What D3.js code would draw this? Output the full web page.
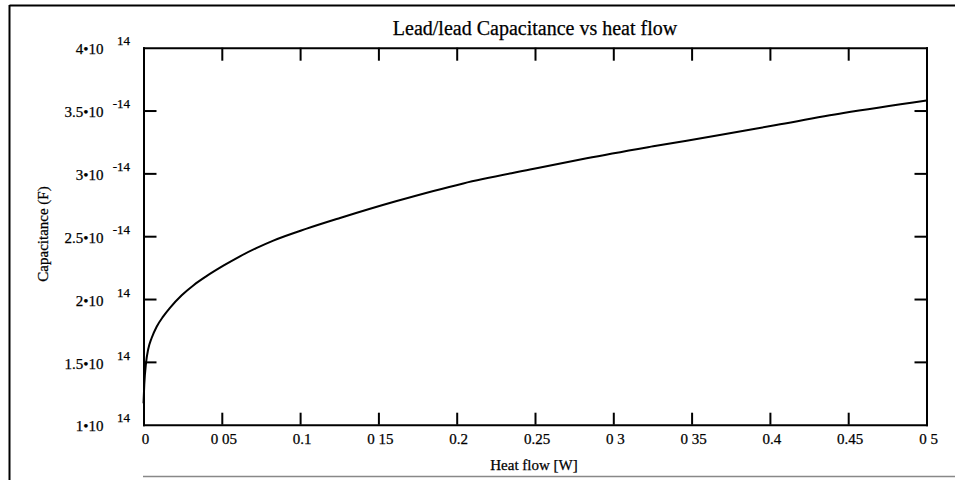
<!DOCTYPE html>
<meta charset="utf-8">
<style>
body { margin: 0; background: #fff; }
svg { display: block; }
text { font-family: "Liberation Serif", "DejaVu Serif", serif; fill: #000; stroke: #000; stroke-width: 0.25px; }
.axis path, .axis line { stroke: #000; stroke-width: 2px; }
.curve { fill: none; stroke: #000; stroke-width: 2px; }
</style>
<svg width="955" height="480"></svg>
<script src="https://cdn.jsdelivr.net/npm/d3@7"></script>
<script>

// heat flow [W]
var heatFlow = [0, 0.0005, 0.0016, 0.003, 0.0052, 0.0084, 0.0125, 0.0169, 0.0244, 0.032,
                0.040, 0.051, 0.0616, 0.072, 0.0829, 0.1042, 0.1255, 0.1617, 0.2042, 0.2468,
                0.283, 0.3255, 0.368, 0.404, 0.447, 0.5];
// capacitance [F]
var capacitance = [1.17e-14, 1.32e-14, 1.49e-14, 1.60e-14, 1.69e-14, 1.78e-14, 1.86e-14, 1.93e-14, 2.03e-14, 2.11e-14,
                   2.18e-14, 2.265e-14, 2.34e-14, 2.405e-14, 2.465e-14, 2.56e-14, 2.645e-14, 2.78e-14, 2.92e-14, 3.03e-14,
                   3.12e-14, 3.215e-14, 3.305e-14, 3.385e-14, 3.48e-14, 3.58e-14];

var xTicks = [0, 0.05, 0.1, 0.15, 0.2, 0.25, 0.3, 0.35, 0.4, 0.45, 0.5];
var xTickLabels = ["0", "0 05", "0.1", "0 15", "0.2", "0.25", "0 3", "0 35", "0.4", "0.45", "0 5"];
var yTicks = [1e-14, 1.5e-14, 2e-14, 2.5e-14, 3e-14, 3.5e-14, 4e-14];
var yTickMant = ["1•10", "1.5•10", "2•10", "2.5•10", "3•10", "3.5•10", "4•10"];
var yTickExp = ["14", "14", "14", "-14", "-14", "-14", "14"];

var svg = d3.select("svg");
// plot box (note: "top" is reserved on window)
var plotL = 143.5, plotR = 926.5, plotT = 47.7, plotB = 424.7;

var x = d3.scaleLinear().domain([0, 0.5]).range([plotL, plotR]);
var y = d3.scaleLinear().domain([1e-14, 4e-14]).range([plotB, plotT]);

// outer frame of the page
svg.append("line").attr("x1", 9.5).attr("x2", 955).attr("y1", 5.5).attr("y2", 5.5)
    .attr("stroke", "#000").attr("stroke-width", 2);
svg.append("line").attr("x1", 9.5).attr("x2", 9.5).attr("y1", 5).attr("y2", 480)
    .attr("stroke", "#000").attr("stroke-width", 2);
svg.append("line").attr("x1", 143).attr("x2", 955).attr("y1", 476.5).attr("y2", 476.5)
    .attr("stroke", "#888").attr("stroke-width", 1.5);

// axes: all ticks point inward
svg.append("g").attr("class", "axis")
    .attr("transform", "translate(0," + plotB + ")")
    .call(d3.axisBottom(x).tickValues(xTicks).tickSize(-12).tickSizeOuter(0).tickFormat(""));
svg.append("g").attr("class", "axis")
    .attr("transform", "translate(0," + plotT + ")")
    .call(d3.axisTop(x).tickValues(xTicks).tickSize(-13).tickSizeOuter(0).tickFormat(""));
svg.append("g").attr("class", "axis")
    .attr("transform", "translate(" + plotL + ",0)")
    .call(d3.axisLeft(y).tickValues(yTicks.slice(1, -1)).tickSize(-13).tickSizeOuter(0).tickFormat(""));
svg.append("g").attr("class", "axis")
    .attr("transform", "translate(" + plotR + ",0)")
    .call(d3.axisRight(y).tickValues(yTicks.slice(1, -1)).tickSize(-12).tickSizeOuter(0).tickFormat(""));
svg.selectAll(".axis path").attr("stroke-linecap", "square");

// x tick labels
svg.selectAll(".xlab")
  .data(xTicks)
  .enter().append("text")
    .attr("class", "xlab")
    .attr("x", function(d) { return x(d) + 2; })
    .attr("y", 443.5)
    .attr("text-anchor", "middle")
    .style("font-size", "15px")
    .text(function(d, i) { return xTickLabels[i]; });

// y tick labels with exponent
svg.selectAll(".ymant")
  .data(yTicks)
  .enter().append("text")
    .attr("class", "ymant")
    .attr("x", 103.5)
    .attr("y", function(d) { return y(d) + 6.7; })
    .attr("text-anchor", "end")
    .style("font-size", "15px")
    .text(function(d, i) { return yTickMant[i]; });
svg.selectAll(".yexp")
  .data(yTicks)
  .enter().append("text")
    .attr("class", "yexp")
    .attr("x", 130)
    .attr("y", function(d) { return y(d) - 2.3; })
    .attr("text-anchor", "end")
    .style("font-size", "13px")
    .text(function(d, i) { return yTickExp[i]; });

// curve
var line = d3.line()
    .x(function(d, i) { return x(heatFlow[i]); })
    .y(function(d) { return y(d); })
    .curve(d3.curveMonotoneX);
svg.append("path")
    .attr("class", "curve")
    .attr("d", line(capacitance));

// titles
svg.append("text")
    .attr("x", 535).attr("y", 35)
    .attr("text-anchor", "middle")
    .style("font-size", "20px")
    .text("Lead/lead Capacitance vs heat flow");
svg.append("text")
    .attr("x", 534).attr("y", 470)
    .attr("text-anchor", "middle")
    .style("font-size", "15px")
    .text("Heat flow [W]");
svg.append("text")
    .attr("transform", "translate(48,234) rotate(-90)")
    .attr("text-anchor", "middle")
    .style("font-size", "15px")
    .text("Capacitance (F)");

</script>
